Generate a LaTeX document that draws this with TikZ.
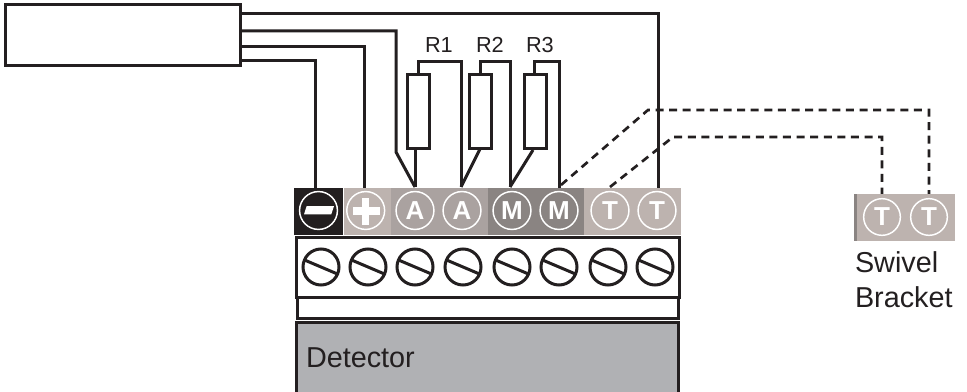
\documentclass[tikz,border=0pt]{standalone}
\usepackage{fontspec}
\setmainfont{Liberation Sans}
\definecolor{ink}{HTML}{231F20}
\definecolor{cellT}{HTML}{BDB3AF}
\definecolor{cellA}{HTML}{AAA2A0}
\definecolor{cellM}{HTML}{8A8482}
\definecolor{detgrey}{HTML}{B0B1B4}
\tikzset{
  wire/.style={draw=ink,line width=2.25pt,line join=miter},
  dashwire/.style={draw=ink,line width=2pt,dash pattern=on 6pt off 4.2pt},
  box/.style={draw=ink,line width=2.25pt,fill=white,rectangle,inner sep=0pt,outer sep=0pt,anchor=north west},
  resistor/.style={box,minimum width=16.9pt,minimum height=55.5pt},
  cell/.style={rectangle,inner sep=0pt,outer sep=0pt,anchor=north west,minimum height=35.25pt},
  term/.style={circle,draw=white,line width=1.1pt,minimum size=28.4pt,inner sep=0pt,outer sep=0pt,text=white,font=\fontsize{19.5}{19.5}\selectfont\bfseries},
  screw/.style={circle,draw=ink,line width=2.25pt,minimum size=27pt,inner sep=0pt,outer sep=0pt},
  lbl/.style={text=ink,inner sep=0pt,outer sep=0pt,anchor=base west},
  biglbl/.style={lbl,font=\fontsize{21.6}{21.6}\selectfont},
  rlbl/.style={lbl,font=\fontsize{16.3}{16.3}\selectfont}
}
\begin{document}
\begin{tikzpicture}[x=0.75pt,y=-0.75pt]
\useasboundingbox (0,0) rectangle (967,392);
% terminal strip
\node[cell,fill=ink,minimum width=37.1pt] (c1) at (294,188) {};
\node[cell,fill=cellT,minimum width=35.9pt] (c2) at (343.5,188) {};
\node[cell,fill=cellA,minimum width=72.75pt] (c3) at (391,188) {};
\node[cell,fill=cellM,minimum width=72pt] (c4) at (488,188) {};
\node[cell,fill=cellT,minimum width=72.75pt] (c5) at (584,188) {};
\node[term] (tm) at (318.5,210.5) {};
\node[term] (tp) at (365.7,210.5) {};
\node[term] (ta1) at (415,210.5) {A};
\node[term] (ta2) at (462,210.5) {A};
\node[term] (tm1) at (512,210.5) {M};
\node[term] (tm2) at (559,210.5) {M};
\node[term] (tt1) at (610,210.5) {T};
\node[term] (tt2) at (657,210.5) {T};
\fill[white] (304,214.3) -- (331.3,214.3) -- (334,206) -- (306.7,206) -- cycle;
\fill[white] (362.3,197.7) rectangle (369.2,225);
\fill[white] (353,206.7) rectangle (380,215.3);
% boxes
\node[box,minimum width=287.25pt,minimum height=45pt] (screws) at (296,237) {};
\node[box,minimum width=285.75pt,minimum height=15.75pt] (strip) at (297,297) {};
\node[box,fill=detgrey,minimum width=286.5pt,minimum height=54pt] (det) at (296,322) {};
\node[biglbl] (detl) at (306,367) {Detector};
% screws
\foreach \n/\x in {s1/321,s2/368,s3/415,s4/463,s5/512,s6/559,s7/608,s8/655}{
  \node[screw] (\n) at (\x,267) {};
  \draw[wire] (\n.157) -- (\n.-23);
}
% remote box
\node[box,minimum width=176.25pt,minimum height=45.75pt] (remote) at (5,5) {};
% resistors
\node[resistor] (r1) at (407,75) {};
\node[resistor] (r2) at (469,75) {};
\node[resistor] (r3) at (524,75) {};
\node[rlbl] (r1l) at (425,53) {R1};
\node[rlbl] (r2l) at (476,53) {R2};
\node[rlbl] (r3l) at (526,53) {R3};
% wire end points
\coordinate (e1) at (658.5,188);
\coordinate (e2) at (415,187);
\coordinate (e2k) at (396,152);
\coordinate (e3) at (364,188);
\coordinate (e4) at (315,188);
\coordinate (ea2) at (461,187);
\coordinate (em1) at (510,187);
\coordinate (em2) at (559,188);
% wires
\draw[wire] (remote.east |- 0,14) -- (e1 |- 0,14) -- (e1);
\draw[wire] (remote.east |- 0,31) -- (e2k |- 0,31) -- (e2k) -- (e2);
\draw[wire] (remote.east |- 0,47) -- (e3 |- 0,47) -- (e3);
\draw[wire] (remote.east |- 0,61) -- (e4 |- 0,61) -- (e4);
% resistor leads
\draw[wire] (418,75) -- (418,62) -- (ea2 |- 0,62) -- (ea2);
\draw[wire] (480,75) -- (480,62) -- (em1 |- 0,62) -- (em1);
\draw[wire] (534,75) -- (534,62) -- (em2 |- 0,62) -- (em2);
\draw[wire] (415,149) -- (e2);
\draw[wire] (480,149) -- (ea2);
\draw[wire] (533,150) -- (em1);
% swivel bracket
\node[cell,fill=cellT,minimum width=75.75pt] (sw) at (854,194) {};
\fill[cellM] (854,194) rectangle (857,241);
\node[term,minimum size=27.5pt] (st1) at (882,217) {T};
\node[term,minimum size=27.5pt] (st2) at (929,217) {T};
\node[biglbl] (swl1) at (855,272) {Swivel};
\node[biglbl] (swl2) at (855,307) {Bracket};
% dashed wires
\coordinate (d1) at (561,185);
\coordinate (d2) at (610,187);
\draw[dashwire] (d1) -- (648,110) -- (929,110) -- (929,194);
\draw[dashwire] (d2) -- (673,137) -- (882,137) -- (882,194);
\end{tikzpicture}
\end{document}
